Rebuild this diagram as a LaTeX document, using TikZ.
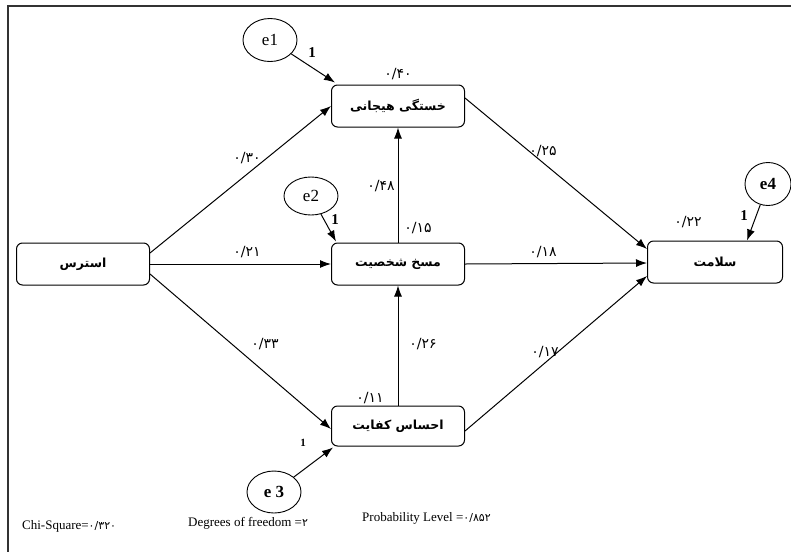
\documentclass[tikz,border=0pt]{standalone}
\usepackage{fontspec}
\setmainfont{Liberation Serif}
\newfontfamily\arabicfont[Script=Arabic]{DejaVu Sans}
\TeXXeTstate=1
\usetikzlibrary{arrows.meta,shapes.geometric,calc}
\begin{document}
\begin{tikzpicture}[x=1pt,y=-1pt,
  box/.style={draw, rounded corners=6pt, minimum width=133pt, minimum height=42pt, line width=1pt, inner sep=0pt,
    font=\arabicfont\bfseries\fontsize{12.5}{13}\selectfont},
  err/.style={draw, ellipse, line width=0.9pt, inner sep=0pt, minimum width=54pt, minimum height=43pt,
    font=\fontsize{17}{17}\selectfont},
  arr/.style={-{Latex[length=11pt,width=8pt]}, line width=1pt},
  coef/.style={font=\arabicfont\fontsize{14}{15}\selectfont, inner sep=0pt},
  one/.style={font=\bfseries\fontsize{15}{15}\selectfont, inner sep=0pt},
  foot/.style={font=\fontsize{13}{14}\selectfont, inner sep=0pt, anchor=west}]
\useasboundingbox (0,0) rectangle (791,552);
\draw[line width=2.5pt, black!80] (791,6) -- (8,6) -- (8,552);

% boxes
\node[box] (s) at (83,264) {\beginR استرس\endR};
\node[box] (emo) at (398,106) {\beginR خستگی هیجانی\endR};
\node[box] (dep) at (398,264) {\beginR مسخ شخصیت\endR};
\node[box, minimum height=40pt] (eff) at (398,426) {\beginR احساس کفایت\endR};
\node[box, minimum width=135pt] (h) at (715,262) {\beginR سلامت\endR};

% error terms
\node[err] (e1) at (270,40) {e1};
\node[err, minimum height=38pt] (e2) at (311,196) {e2};
\node[err, minimum width=46pt, font=\bfseries\fontsize{17}{17}\selectfont] (e4) at (768,184) {e4};
\node[err, minimum height=42pt, font=\bfseries\fontsize{17}{17}\selectfont] (e3) at (274,492) {e 3};

% paths
\draw[arr] ($(s.east)+(0,-11)$) -- (emo.west);
\draw[arr] (s.east) -- (dep.west);
\draw[arr] ($(s.east)+(0,10)$) -- ($(eff.west)+(0,3)$);
\draw[arr] (dep.north) -- (emo.south);
\draw[arr] (eff.north) -- (dep.south);
\draw[arr] ($(emo.east)+(0,-8)$) -- ($(h.west)+(0,-13)$);
\draw[arr] (dep.east) -- ($(h.west)+(0,1)$);
\draw[arr] ($(eff.east)+(0,5)$) -- ($(h.west)+(0,14)$);

% error arrows
\draw[arr] (e1) -- ($(emo.north west)+(4,-2)$);
\draw[arr] (e2) -- ($(dep.north west)+(5,-1)$);
\draw[arr] (e4) -- ($(h.north)+(32,0)$);
\draw[arr] (e3) -- ($(eff.south west)+(2,1)$);

% ones
\node[one] (o1) at (312,53) {1};
\node[one] (o2) at (335,220) {1};
\node[one] (o4) at (744,216) {1};
\node[one, font=\bfseries\fontsize{11}{11}\selectfont] (o3) at (303,443) {1};

% coefficients
\node[coef] (c40) at (398,74) {۰/۴۰};
\node[coef] (c48) at (381,186) {۰/۴۸};
\node[coef] (c15) at (418,228) {۰/۱۵};
\node[coef] (c30) at (247,158) {۰/۳۰};
\node[coef] (c21) at (247,252) {۰/۲۱};
\node[coef] (c33) at (265,344) {۰/۳۳};
\node[coef] (c26) at (423,344) {۰/۲۶};
\node[coef] (c11) at (370,398) {۰/۱۱};
\node[coef] (c25) at (543,151) {۰/۲۵};
\node[coef] (c18) at (543,252) {۰/۱۸};
\node[coef] (c17) at (545,352) {۰/۱۷};
\node[coef] (c22) at (688,222) {۰/۲۲};

% footer
\node[foot] (chi) at (22,526) {Chi-Square=\arabicfont\fontsize{11}{12}\selectfont ۰/۳۲۰};
\node[foot] (df) at (188,523) {Degrees of freedom =\arabicfont\fontsize{11}{12}\selectfont ۲};
\node[foot] (pl) at (362,518) {Probability Level =\arabicfont\fontsize{11}{12}\selectfont ۰/۸۵۲};
\end{tikzpicture}
\end{document}
